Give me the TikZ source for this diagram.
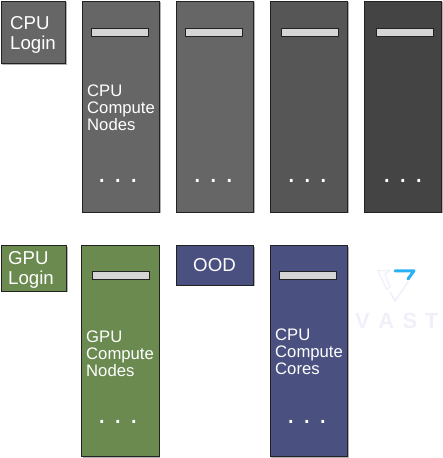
\documentclass[tikz,border=0pt]{standalone}
\usepackage{fontspec}
\setmainfont{Liberation Sans}
\usetikzlibrary{shadows}
\definecolor{grayA}{HTML}{666666}
\definecolor{grayB}{HTML}{565656}
\definecolor{grayC}{HTML}{444444}
\definecolor{greenA}{HTML}{6A8A50}
\definecolor{blueA}{HTML}{4A5080}
\definecolor{edgeA}{HTML}{222222}
\definecolor{barA}{HTML}{D5D5D5}
\definecolor{faintA}{HTML}{EFF0FA}
\definecolor{vastblue}{HTML}{2AB0F5}
\tikzset{
  x=1pt,y=-1pt,
  panel/.style={draw=edgeA,line width=1pt,anchor=north west,inner sep=0pt,outer sep=0pt,
    drop shadow={shadow xshift=1.2pt,shadow yshift=-1.2pt,fill=black,opacity=0.3}},
  rack/.style={panel,minimum width=77.5pt,minimum height=211pt},
  slot/.style={draw=edgeA,line width=1pt,fill=barA,anchor=north west,inner sep=0pt,outer sep=0pt,minimum width=57pt,minimum height=8pt},
  big/.style={text=white,anchor=base west,inner sep=0pt,align=left,font=\fontsize{18.67pt}{20pt}\selectfont},
  small/.style={text=white,anchor=base west,inner sep=0pt,align=left,font=\fontsize{16.67pt}{17pt}\selectfont},
  more/.style={text=white,anchor=base,inner sep=0pt,font=\fontsize{28.8pt}{30pt}\selectfont\frenchspacing},
}
\begin{document}
\begin{tikzpicture}
\useasboundingbox (0,0) rectangle (443,458);
% top row
\node[panel,fill=grayA,minimum width=64.5pt,minimum height=62.5pt] (cpulogin) at (1,1) {};
\node[rack,fill=grayA] (r1) at (82,1) {};
\node[rack,fill=grayA] (r2) at (176,1) {};
\node[rack,fill=grayB] (r3) at (270,1) {};
\node[rack,fill=grayC] (r4) at (364,1) {};
\node[slot] (s1) at (91,28) {};
\node[slot] (s2) at (185,28) {};
\node[slot] (s3) at (281,28) {};
\node[slot] (s4) at (376,28) {};
\node[more] (d1) at (118,182.5) {. . .};
\node[more] (d2) at (213.5,182.5) {. . .};
\node[more] (d3) at (307.5,182.5) {. . .};
\node[more] (d4) at (403,182.5) {. . .};
\node[big] (t1) at (10,49.5) {CPU\\Login};
\node[small] (t2) at (87,130) {CPU\\Compute\\Nodes};
% bottom row
\node[panel,fill=greenA,minimum width=65.5pt,minimum height=45.5pt] (gpulogin) at (1,245.5) {};
\node[rack,fill=greenA] (g1) at (81.5,245.5) {};
\node[panel,fill=blueA,minimum width=77.5pt,minimum height=39.5pt] (ood) at (176,245.5) {};
\node[rack,fill=blueA] (c1) at (270,245.5) {};
\node[slot] (s5) at (92,271) {};
\node[slot] (s6) at (279.5,271) {};
\node[more] (d5) at (118,423) {. . .};
\node[more] (d6) at (307,423) {. . .};
\node[big] (t3) at (8,284) {GPU\\Login};
\node[small] (t4) at (86,376) {GPU\\Compute\\Nodes};
\node[big,anchor=base] (t5) at (214.5,271) {OOD};
\node[small] (t6) at (275,374) {CPU\\Compute\\Cores};
% logo
\draw[faintA,line width=1.2pt,line join=round] (377.7,270.5) -- (390,270.5) -- (385,274) -- (390,287) -- (386.7,289.5) -- cycle;
\draw[faintA,line width=1.6pt,line cap=round,line join=round] (390,292) -- (395,301) -- (408,282);
\draw[vastblue,line width=3pt,line cap=round,line join=round] (395,270.8) -- (414,270.8) -- (408,279);
\node[text=faintA,anchor=base west,inner sep=0pt,font=\fontsize{22pt}{24pt}\selectfont\bfseries] (vast) at (355,328) {V\kern8.5pt A\kern8.5pt S\kern7.5pt T};
\end{tikzpicture}
\end{document}
